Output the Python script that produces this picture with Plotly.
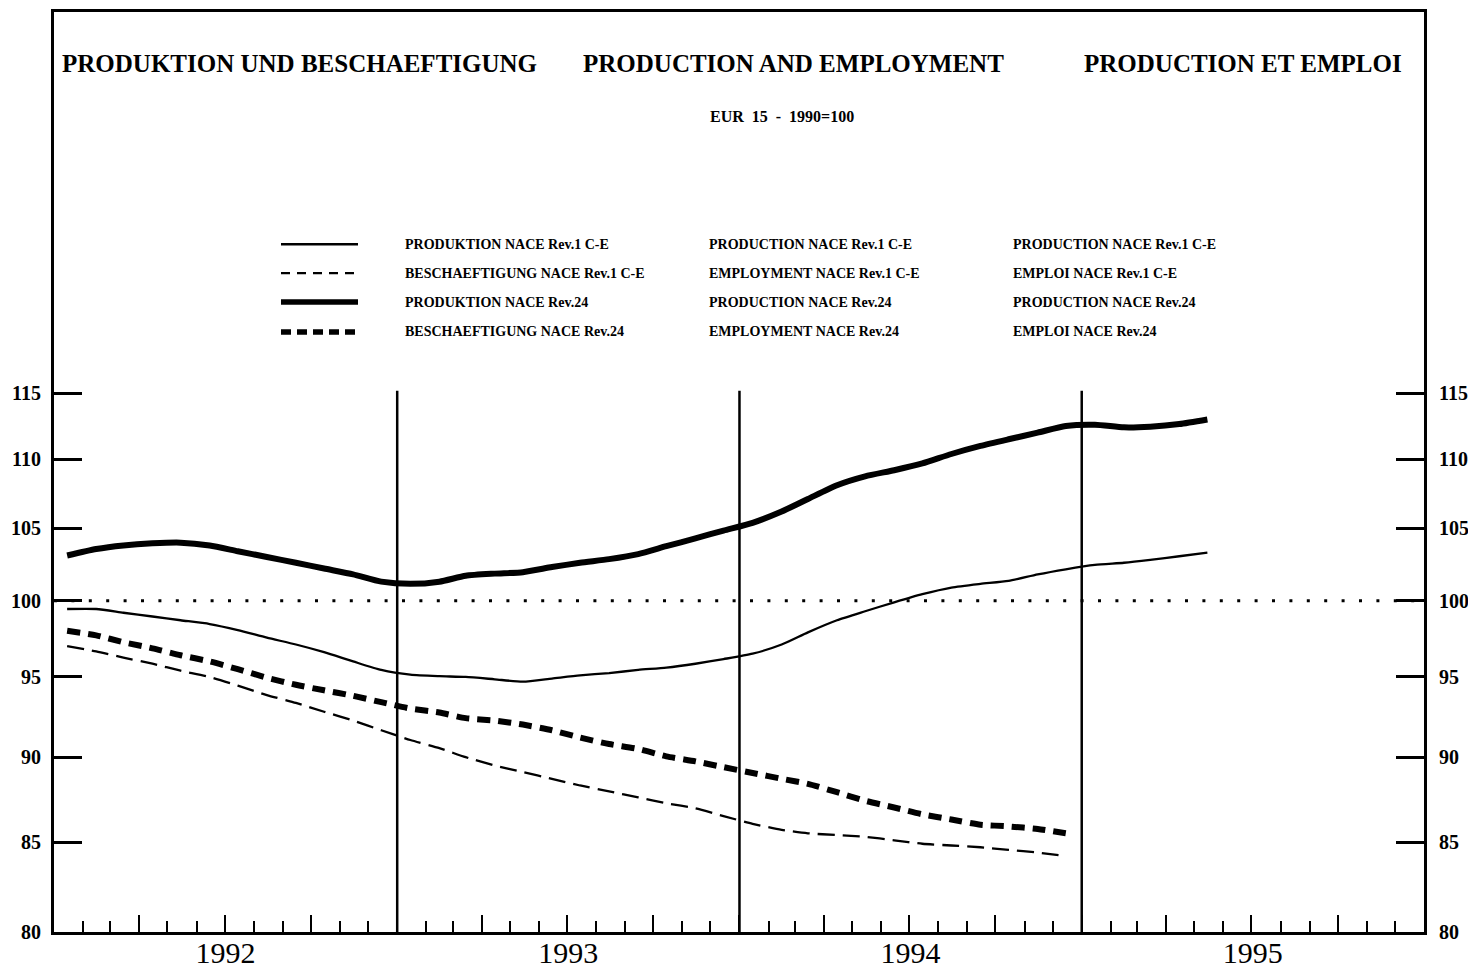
import math
import pandas as pd
import plotly.graph_objects as go

# ---------------- data ----------------
months_prod = pd.date_range("1992-01-01", periods=41, freq="MS") + pd.Timedelta(days=14)
months_emp = months_prod[:36]

prod_rev24 = [103.1, 103.55, 103.8, 103.95, 104.0, 103.8, 103.4, 103.0, 102.6, 102.2,
              101.8, 101.3, 101.15, 101.3, 101.7, 101.85, 101.95, 102.3, 102.6, 102.85,
              103.2, 103.75, 104.3, 104.85, 105.4, 106.2, 107.1, 108.1, 108.75, 109.2,
              109.7, 110.4, 111.0, 111.5, 112.0, 112.5, 112.6, 112.4, 112.45, 112.65, 113.0]
prod_rev1 = [99.45, 99.45, 99.2, 98.95, 98.7, 98.45, 98.05, 97.55, 97.1, 96.6,
             96.0, 95.45, 95.15, 95.05, 95.0, 94.85, 94.7, 94.9, 95.1, 95.25,
             95.45, 95.6, 95.85, 96.15, 96.5, 97.1, 97.9, 98.7, 99.3, 99.9,
             100.45, 100.9, 101.15, 101.35, 101.8, 102.15, 102.45, 102.6, 102.8, 103.05, 103.3]
emp_rev24 = [98.0, 97.7, 97.25, 96.85, 96.4, 96.0, 95.5, 94.95, 94.5, 94.15,
             93.8, 93.4, 93.0, 92.75, 92.4, 92.25, 92.0, 91.65, 91.2, 90.8,
             90.5, 90.05, 89.75, 89.4, 89.05, 88.7, 88.4, 87.9, 87.4, 87.0,
             86.6, 86.3, 86.0, 85.9, 85.75, 85.5]
emp_rev1 = [97.0, 96.65, 96.25, 95.85, 95.4, 95.0, 94.45, 93.85, 93.35, 92.8,
            92.25, 91.65, 91.05, 90.55, 90.0, 89.5, 89.1, 88.7, 88.3, 87.95,
            87.6, 87.25, 86.95, 86.5, 86.05, 85.7, 85.5, 85.4, 85.3, 85.1,
            84.9, 84.8, 84.7, 84.55, 84.4, 84.2]

y_ticks = [80, 85, 90, 95, 100, 105, 110, 115]
year_lines = ["1993-01-01", "1994-01-01", "1995-01-01"]

titles = ["PRODUKTION UND BESCHAEFTIGUNG", "PRODUCTION AND EMPLOYMENT", "PRODUCTION ET EMPLOI"]
subtitle = "EUR  15  -  1990=100"
legend_de = ["PRODUKTION NACE Rev.1 C-E", "BESCHAEFTIGUNG NACE Rev.1 C-E",
             "PRODUKTION NACE Rev.24", "BESCHAEFTIGUNG NACE Rev.24"]
legend_en = ["PRODUCTION NACE Rev.1 C-E", "EMPLOYMENT NACE Rev.1 C-E",
             "PRODUCTION NACE Rev.24", "EMPLOYMENT NACE Rev.24"]
legend_fr = ["PRODUCTION NACE Rev.1 C-E", "EMPLOI NACE Rev.1 C-E",
             "PRODUCTION NACE Rev.24", "EMPLOI NACE Rev.24"]

# ---------------- layout geometry ----------------
OFF = 8                      # page body margin
ML, MR, MT, MB = 46, 46, 1, 43
PW, PH = 1370, 923
W, H = ML + PW + MR, MT + PH + MB


def px_x(px):
    return (px - OFF - ML) / PW


def px_y(py):
    return (OFF + MT + PH - py) / PH


SERIF = "Liberation Serif, DejaVu Serif, serif"
styles = [
    dict(width=2.3, dash="solid"),
    dict(width=2.3, dash="17px,8px"),
    dict(width=6, dash="solid"),
    dict(width=6, dash="13px,8px"),
]
legend_styles = [
    dict(width=2.3, dash="solid"),
    dict(width=2.3, dash="9px,7px"),
    dict(width=5.5, dash="solid"),
    dict(width=5.5, dash="10px,6px"),
]

fig = go.Figure()
series = [(months_prod, prod_rev1), (months_emp, emp_rev1),
          (months_prod, prod_rev24), (months_emp, emp_rev24)]
for (xs, ys), st, name in zip(series, styles, legend_en):
    fig.add_trace(go.Scatter(x=xs, y=ys, mode="lines", name=name,
                             line=dict(color="black", width=st["width"], dash=st["dash"],
                                       shape="spline", smoothing=0.6),
                             showlegend=False))

# invisible helper traces for the secondary axes (year labels, right scale)
fig.add_trace(go.Scatter(x=months_prod, y=prod_rev1, mode="lines", xaxis="x2",
                         line=dict(width=0, color="rgba(0,0,0,0)"), showlegend=False,
                         hoverinfo="skip"))
fig.add_trace(go.Scatter(x=months_prod, y=prod_rev1, mode="lines", yaxis="y2",
                         line=dict(width=0, color="rgba(0,0,0,0)"), showlegend=False,
                         hoverinfo="skip"))

yr = [math.log10(80), math.log10(148.7)]
xr = ["1992-01-01", "1996-01-01"]
tickfont = dict(family=SERIF, size=20, color="black")

shapes = []
# reference line at 100
shapes.append(dict(type="line", xref="x", yref="y", x0=xr[0], x1=xr[1], y0=100, y1=100,
                   line=dict(color="black", width=3, dash="3px,14.4px"), layer="below"))
# year separators
for d in year_lines:
    shapes.append(dict(type="line", xref="x", yref="y", x0=d, x1=d, y0=80, y1=115.2,
                       line=dict(color="black", width=2.5)))
# legend samples
legend_rows = [242, 271, 300, 330]
for st, py in zip(legend_styles, legend_rows):
    shapes.append(dict(type="line", xref="paper", yref="paper",
                       x0=px_x(281), x1=px_x(358), y0=px_y(py), y1=px_y(py),
                       line=dict(color="black", width=st["width"], dash=st["dash"])))

annotations = []
for txt, cx in zip(titles, [299, 793, 1243]):
    annotations.append(dict(text="<b>" + txt + "</b>", xref="paper", yref="paper",
                            x=px_x(cx), y=px_y(61),
                            showarrow=False, xanchor="center", yanchor="middle",
                            font=dict(family=SERIF, size=25, color="black")))
annotations.append(dict(text="<b>" + subtitle + "</b>", xref="paper", yref="paper",
                        x=px_x(782), y=px_y(114), showarrow=False,
                        xanchor="center", yanchor="middle",
                        font=dict(family=SERIF, size=16, color="black")))
for col, lx in zip([legend_de, legend_en, legend_fr], [403, 707, 1011]):
    for txt, py in zip(col, legend_rows):
        annotations.append(dict(text="<b>" + txt + "</b>", xref="paper", yref="paper",
                                x=px_x(lx), y=px_y(py), showarrow=False,
                                xanchor="left", yanchor="middle",
                                font=dict(family=SERIF, size=14, color="black")))

fig.update_layout(
    width=W, height=H,
    margin=dict(l=ML, r=MR, t=MT, b=MB, pad=0),
    paper_bgcolor="white", plot_bgcolor="white",
    showlegend=False,
    xaxis=dict(type="date", range=xr, showgrid=False, zeroline=False,
               showline=True, linecolor="black", linewidth=3, mirror=True,
               ticks="inside", tick0="1992-01-01", dtick="M3", ticklen=17, tickwidth=2,
               tickcolor="black", showticklabels=False,
               minor=dict(dtick="M1", ticks="inside", ticklen=11, tickwidth=2,
                          tickcolor="black", showgrid=False)),
    xaxis2=dict(type="date", range=xr, overlaying="x", side="bottom", anchor="y",
                showgrid=False, zeroline=False, showline=False, ticks="",
                dtick="M12", tick0="1992-01-01", ticklabelmode="period",
                tickformat="%Y", ticklabelstandoff=0,
                tickfont=dict(family=SERIF, size=30, color="black")),
    yaxis=dict(type="log", range=yr, showgrid=False, zeroline=False,
               showline=True, linecolor="black", linewidth=3,
               ticks="inside", tickvals=y_ticks, ticktext=[f"<b>{v}</b>" for v in y_ticks],
               ticklen=28, tickwidth=3, tickcolor="black",
               tickfont=tickfont, ticklabelstandoff=6),
    yaxis2=dict(type="log", range=yr, overlaying="y", side="right", anchor="x",
                showgrid=False, zeroline=False, showline=True, linecolor="black",
                linewidth=3, ticks="inside", tickvals=y_ticks,
                ticktext=[f"<b>{v}</b>" for v in y_ticks],
                ticklen=28, tickwidth=3, tickcolor="black",
                tickfont=tickfont, ticklabelstandoff=8),
    shapes=shapes,
    annotations=annotations,
)

fig.write_html("out.html")
